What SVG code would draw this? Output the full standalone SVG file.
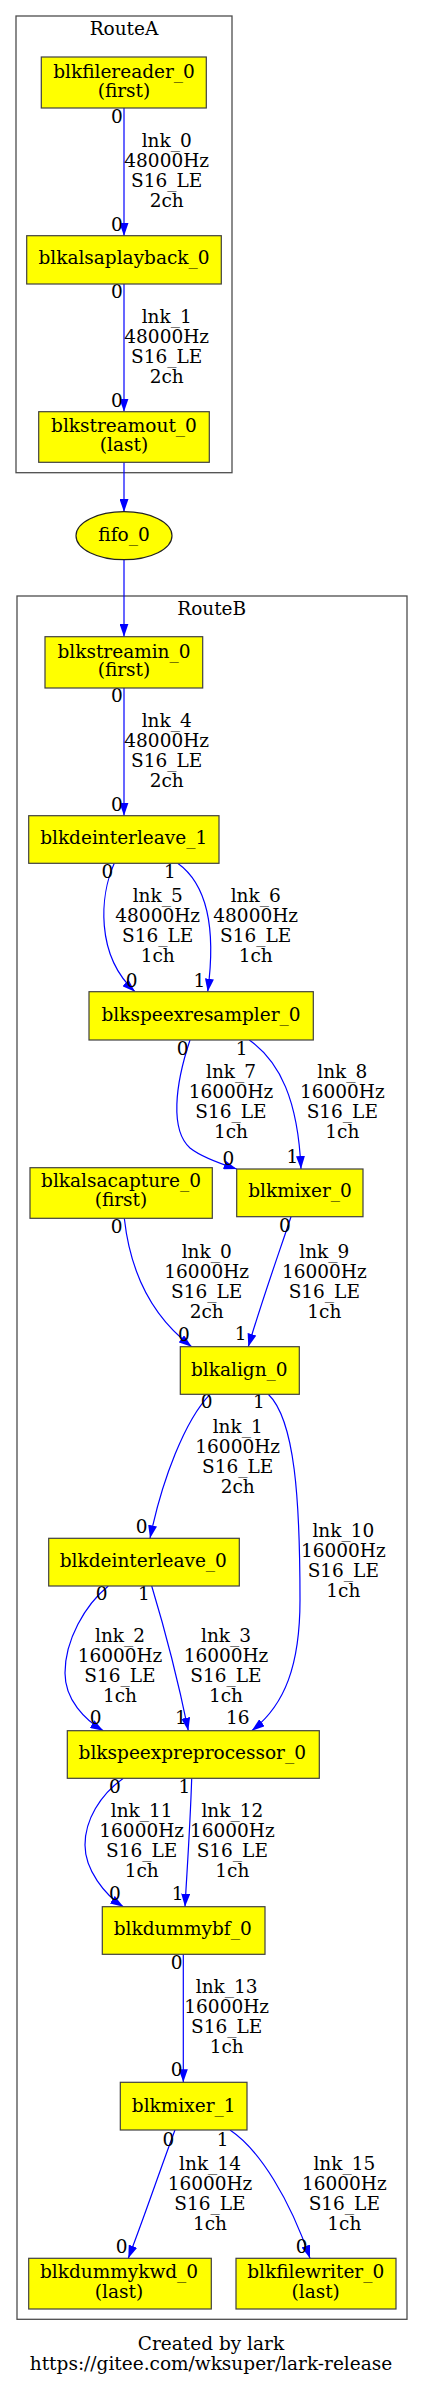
<svg xmlns="http://www.w3.org/2000/svg" width="423" height="2387" viewBox="0 0 423 2387">
<style>
.t{font-family:"DejaVu Serif",serif;font-size:18.5px;fill:#000;text-anchor:middle}
.n{fill:#ffff00;stroke:#404040;stroke-width:1.2}
.c{fill:none;stroke:#4d4d4d;stroke-width:1.3}
.e{fill:none;stroke:#0000ff;stroke-width:1.2;marker-end:url(#ah)}
</style>
<defs>
<marker id="ah" viewBox="0 0 13 9" refX="13" refY="4.5" markerWidth="13" markerHeight="9" markerUnits="userSpaceOnUse" orient="auto">
<path d="M0,0 L13,4.5 L0,9 z" fill="#0000ff"/>
</marker>
</defs>
<rect width="423" height="2387" fill="#fff"/>
<g id="clusterA">
<rect class="c" x="16" y="16" width="216" height="456.7"/>
<text class="t" x="124" y="35">RouteA</text>
</g>
<g id="clusterB">
<rect class="c" x="17" y="596" width="390" height="1723.3"/>
<text class="t" x="211.7" y="615">RouteB</text>
</g>
<g id="edges">
<path class="e" d="M124,108 L124,236"/>
<text class="t" x="117" y="122.7">0</text>
<text class="t" x="166.7" y="146.7">lnk_0</text><text class="t" x="166.7" y="166.7">48000Hz</text><text class="t" x="166.7" y="186.7">S16_LE</text><text class="t" x="166.7" y="206.7">2ch</text>
<text class="t" x="117" y="230.7">0</text>

<path class="e" d="M124,284 L124,411.7"/>
<text class="t" x="117" y="298.3">0</text>
<text class="t" x="166.7" y="322.7">lnk_1</text><text class="t" x="166.7" y="342.7">48000Hz</text><text class="t" x="166.7" y="362.7">S16_LE</text><text class="t" x="166.7" y="382.7">2ch</text>
<text class="t" x="117" y="406.7">0</text>

<path class="e" d="M124,462.3 L124,512"/>
<path class="e" d="M124,559.7 L124,636.7"/>

<path class="e" d="M124,688 L124,815.7"/>
<text class="t" x="117" y="702.3">0</text>
<text class="t" x="166.7" y="726.7">lnk_4</text><text class="t" x="166.7" y="746.7">48000Hz</text><text class="t" x="166.7" y="766.7">S16_LE</text><text class="t" x="166.7" y="786.7">2ch</text>
<text class="t" x="117" y="810.7">0</text>

<path class="e" d="M114.3,863.3 C100,895 95,955 135,991.7"/>
<text class="t" x="107.3" y="877.7">0</text>
<text class="t" x="157.7" y="901.7">lnk_5</text><text class="t" x="157.7" y="921.7">48000Hz</text><text class="t" x="157.7" y="941.7">S16_LE</text><text class="t" x="157.7" y="961.7">1ch</text>
<text class="t" x="131.7" y="986.7">0</text>

<path class="e" d="M177.7,863.3 C208,885 216,930 207.7,991.7"/>
<text class="t" x="170" y="877.7">1</text>
<text class="t" x="255.7" y="901.7">lnk_6</text><text class="t" x="255.7" y="921.7">48000Hz</text><text class="t" x="255.7" y="941.7">S16_LE</text><text class="t" x="255.7" y="961.7">1ch</text>
<text class="t" x="199.3" y="986.7">1</text>

<path class="e" d="M190,1040 C175,1085 170,1130 190,1148 C200,1156 215,1162 236.7,1169"/>
<text class="t" x="182.7" y="1055">0</text>
<text class="t" x="231" y="1078.3">lnk_7</text><text class="t" x="231" y="1098.3">16000Hz</text><text class="t" x="231" y="1118.3">S16_LE</text><text class="t" x="231" y="1138.3">1ch</text>
<text class="t" x="228.3" y="1165">0</text>

<path class="e" d="M249.3,1040 C280,1062 298,1100 301,1169"/>
<text class="t" x="241.7" y="1055">1</text>
<text class="t" x="342.3" y="1078.3">lnk_8</text><text class="t" x="342.3" y="1098.3">16000Hz</text><text class="t" x="342.3" y="1118.3">S16_LE</text><text class="t" x="342.3" y="1138.3">1ch</text>
<text class="t" x="292.3" y="1163.3">1</text>

<path class="e" d="M124.3,1218.3 C130,1270 150,1315 191.7,1346.7"/>
<text class="t" x="116.7" y="1233.3">0</text>
<text class="t" x="206.7" y="1258.3">lnk_0</text><text class="t" x="206.7" y="1278.3">16000Hz</text><text class="t" x="206.7" y="1298.3">S16_LE</text><text class="t" x="206.7" y="1318.3">2ch</text>
<text class="t" x="184" y="1340.7">0</text>

<path class="e" d="M291,1216.7 C280,1250 262,1300 248.3,1346.7"/>
<text class="t" x="285" y="1231.7">0</text>
<text class="t" x="324.3" y="1258.3">lnk_9</text><text class="t" x="324.3" y="1278.3">16000Hz</text><text class="t" x="324.3" y="1298.3">S16_LE</text><text class="t" x="324.3" y="1318.3">1ch</text>
<text class="t" x="240.7" y="1340">1</text>

<path class="e" d="M210,1394.3 C185,1420 162,1480 150,1538.3"/>
<text class="t" x="206.7" y="1408.3">0</text>
<text class="t" x="237.7" y="1433.3">lnk_1</text><text class="t" x="237.7" y="1453.3">16000Hz</text><text class="t" x="237.7" y="1473.3">S16_LE</text><text class="t" x="237.7" y="1493.3">2ch</text>
<text class="t" x="141.7" y="1532.7">0</text>

<path class="e" d="M268.3,1394.3 C295,1420 300,1500 300,1600 C300,1665 285,1705 251.7,1730.7"/>
<text class="t" x="259" y="1408.3">1</text>
<text class="t" x="343.3" y="1537.3">lnk_10</text><text class="t" x="343.3" y="1557.3">16000Hz</text><text class="t" x="343.3" y="1577.3">S16_LE</text><text class="t" x="343.3" y="1597.3">1ch</text>
<text class="t" x="237.7" y="1724">16</text>

<path class="e" d="M108.3,1586 C85,1605 65,1640 65,1673 C65,1700 85,1720 103.3,1730.7"/>
<text class="t" x="101.7" y="1600">0</text>
<text class="t" x="120" y="1641.7">lnk_2</text><text class="t" x="120" y="1661.7">16000Hz</text><text class="t" x="120" y="1681.7">S16_LE</text><text class="t" x="120" y="1701.7">1ch</text>
<text class="t" x="95.7" y="1724">0</text>

<path class="e" d="M151.7,1586 C165,1630 180,1690 188.3,1730.7"/>
<text class="t" x="144" y="1600">1</text>
<text class="t" x="226" y="1641.7">lnk_3</text><text class="t" x="226" y="1661.7">16000Hz</text><text class="t" x="226" y="1681.7">S16_LE</text><text class="t" x="226" y="1701.7">1ch</text>
<text class="t" x="181" y="1724">1</text>

<path class="e" d="M123.3,1778.3 C100,1795 85,1820 85,1845 C85,1870 105,1895 123.3,1906.7"/>
<text class="t" x="115" y="1793.3">0</text>
<text class="t" x="141.7" y="1816.7">lnk_11</text><text class="t" x="141.7" y="1836.7">16000Hz</text><text class="t" x="141.7" y="1856.7">S16_LE</text><text class="t" x="141.7" y="1876.7">1ch</text>
<text class="t" x="115" y="1900">0</text>

<path class="e" d="M191.7,1778.3 C190,1830 187,1870 185,1906.7"/>
<text class="t" x="184.3" y="1793.3">1</text>
<text class="t" x="232.3" y="1816.7">lnk_12</text><text class="t" x="232.3" y="1836.7">16000Hz</text><text class="t" x="232.3" y="1856.7">S16_LE</text><text class="t" x="232.3" y="1876.7">1ch</text>
<text class="t" x="177.7" y="1900">1</text>

<path class="e" d="M183.3,1954.3 L183.3,2082.3"/>
<text class="t" x="176.7" y="1969.3">0</text>
<text class="t" x="226.7" y="1993.3">lnk_13</text><text class="t" x="226.7" y="2013.3">16000Hz</text><text class="t" x="226.7" y="2033.3">S16_LE</text><text class="t" x="226.7" y="2053.3">1ch</text>
<text class="t" x="176.7" y="2076">0</text>

<path class="e" d="M175,2130 C160,2170 145,2215 128.3,2258.3"/>
<text class="t" x="168.3" y="2145.7">0</text>
<text class="t" x="210" y="2170">lnk_14</text><text class="t" x="210" y="2190">16000Hz</text><text class="t" x="210" y="2210">S16_LE</text><text class="t" x="210" y="2230">1ch</text>
<text class="t" x="121.7" y="2253.3">0</text>

<path class="e" d="M230,2130 C260,2150 290,2200 310,2258.3"/>
<text class="t" x="222.7" y="2145.7">1</text>
<text class="t" x="344.3" y="2170">lnk_15</text><text class="t" x="344.3" y="2190">16000Hz</text><text class="t" x="344.3" y="2210">S16_LE</text><text class="t" x="344.3" y="2230">1ch</text>
<text class="t" x="301.7" y="2253.3">0</text>
</g>
<g id="blkfilereader_0"><rect class="n" x="41.3" y="57" width="165" height="51"/><text class="t" x="124" y="78.3">blkfilereader_0</text><text class="t" x="124" y="97">(first)</text></g>
<g id="blkalsaplayback_0"><rect class="n" x="26.7" y="235.7" width="194.6" height="48.3"/><text class="t" x="124" y="264.3">blkalsaplayback_0</text></g>
<g id="blkstreamout_0"><rect class="n" x="38.7" y="411.7" width="170.6" height="50.6"/><text class="t" x="124" y="431.7">blkstreamout_0</text><text class="t" x="124" y="451.3">(last)</text></g>
<g id="fifo_0"><ellipse cx="124" cy="535.7" rx="48" ry="24" fill="#ffff00" stroke="#222" stroke-width="1.2"/><text class="t" x="124" y="540.7">fifo_0</text></g>
<g id="blkstreamin_0"><rect class="n" x="45" y="636.7" width="157.7" height="51.3"/><text class="t" x="124" y="657.7">blkstreamin_0</text><text class="t" x="124" y="676.3">(first)</text></g>
<g id="blkdeinterleave_1"><rect class="n" x="28.7" y="815.7" width="190.3" height="47.6"/><text class="t" x="123.7" y="844.3">blkdeinterleave_1</text></g>
<g id="blkspeexresampler_0"><rect class="n" x="89" y="991.7" width="224.3" height="48.3"/><text class="t" x="201" y="1020.7">blkspeexresampler_0</text></g>
<g id="blkalsacapture_0"><rect class="n" x="30" y="1167.7" width="182.3" height="50.6"/><text class="t" x="121" y="1187.3">blkalsacapture_0</text><text class="t" x="121" y="1206.3">(first)</text></g>
<g id="blkmixer_0"><rect class="n" x="236.7" y="1169" width="126.3" height="47.7"/><text class="t" x="300" y="1197">blkmixer_0</text></g>
<g id="blkalign_0"><rect class="n" x="180.3" y="1346.7" width="119" height="47.6"/><text class="t" x="239.3" y="1375.7">blkalign_0</text></g>
<g id="blkdeinterleave_0"><rect class="n" x="48.7" y="1538.3" width="190.6" height="47.7"/><text class="t" x="143.3" y="1566.7">blkdeinterleave_0</text></g>
<g id="blkspeexpreprocessor_0"><rect class="n" x="67.3" y="1730.7" width="252" height="47.6"/><text class="t" x="192.3" y="1759.3">blkspeexpreprocessor_0</text></g>
<g id="blkdummybf_0"><rect class="n" x="102.3" y="1906.7" width="162.7" height="47.6"/><text class="t" x="182.7" y="1935">blkdummybf_0</text></g>
<g id="blkmixer_1"><rect class="n" x="120.3" y="2082.3" width="126.7" height="47.7"/><text class="t" x="183.7" y="2111.7">blkmixer_1</text></g>
<g id="blkdummykwd_0"><rect class="n" x="28.7" y="2258.3" width="182.6" height="50.7"/><text class="t" x="119" y="2278.3">blkdummykwd_0</text><text class="t" x="119" y="2297.7">(last)</text></g>
<g id="blkfilewriter_0"><rect class="n" x="236" y="2258.3" width="160" height="50.7"/><text class="t" x="315.7" y="2278.3">blkfilewriter_0</text><text class="t" x="315.7" y="2297.7">(last)</text></g>
<g id="footer"><text class="t" x="211" y="2350">Created by lark</text><text class="t" x="211" y="2370">https://gitee.com/wksuper/lark-release</text></g>
</svg>
